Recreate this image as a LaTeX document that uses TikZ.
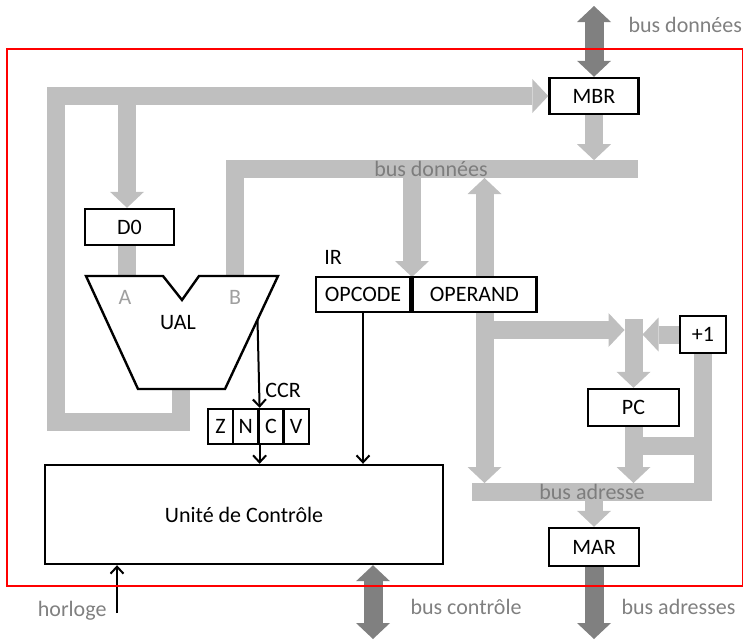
\documentclass[tikz,border=0pt]{standalone}
\usepackage{fontspec}
\setmainfont{Carlito}
\usetikzlibrary{arrows.meta}
\definecolor{busgray}{RGB}{191,191,191}
\definecolor{extgray}{RGB}{128,128,128}
\definecolor{labgray}{RGB}{128,128,128}
\definecolor{inlab}{RGB}{125,125,125}
\definecolor{portgray}{RGB}{160,160,160}

\begin{document}
\begin{tikzpicture}[x=1pt, y=-1pt, every node/.style={font=\fontsize{22}{26}\selectfont},
    reg/.style={draw, line width=2.4pt, inner sep=0pt, fill=white},
    bus/.style={busgray, line width=18pt},
    ext/.style={extgray, line width=19pt},
    bushead/.style={-{Triangle[width=34pt,length=16pt,line width=0pt]}},
    bothhead/.style={{Triangle[width=34pt,length=16pt,line width=0pt]}-{Triangle[width=34pt,length=16pt,line width=0pt]}},
    wire/.style={line width=2pt, -{Straight Barb[width=13pt,length=7pt]}}]
    \useasboundingbox (0,0) rectangle (743,640);

    % Define registers
    \node[reg, minimum width=89, minimum height=36] (mbr) at (594,96) {MBR};
    \node[reg, minimum width=89, minimum height=36] (d0) at (129.5,227) {D0};
    \node[reg, minimum width=91, minimum height=37] (pc) at (633.5,407.5) {PC};
    \node[reg, minimum width=46, minimum height=37] (inc) at (703,334.5) {+1};
    \node[reg, minimum width=90, minimum height=38] (mar) at (594,547) {MAR};
    \node[reg, minimum width=398, minimum height=99] (uc) at (244,514.5) {Unité de Contrôle};

    % Define bus points
    \coordinate (aluout) at (180.5,389);
    \coordinate (d0in) at (127,96);
    \coordinate (ualA) at (127,276);
    \coordinate (ualB) at (234.5,276);
    \coordinate (busDend) at (638,168.5);
    \coordinate (irin) at (412,178);
    \coordinate (opd) at (484.5,178);
    \coordinate (busA) at (484.5,483);
    \coordinate (brin) at (484.5,330);
    \coordinate (jctL) at (624.5,330);
    \coordinate (jct) at (633.5,319);
    \coordinate (jctR) at (642.5,334.5);
    \coordinate (busAR) at (703,491.5);
    \coordinate (busAL) at (472,491.5);
    \coordinate (marin) at (594,500);
    \coordinate (ctl) at (373,639);

    % Internal buses
    \draw[bus, bushead] (aluout) -- (180.5,422) -- (56,422) -- (56,96) -- (mbr.west);
    \draw[bus, bushead] (d0in) -- (d0in |- d0.north);
    \draw[bus] (ualA |- d0.south) -- (ualA);
    \draw[bus] (ualB) -- (ualB |- busDend) -- (busDend);
    \draw[bus, bushead] (mbr.south) -- ++(0,45);
    \draw[bus, bushead] (irin) -- (irin |- 0,277);
    \draw[bus, bothhead] (opd) -- (busA);
    \draw[bus, bushead] (brin) -- (jctL);
    \draw[bus, bushead] (jct) -- (jct |- pc.north);
    \draw[bus, bushead] (inc.west) -- (jctR);
    \draw[bus] (inc.south) -- (busAR) -- (busAL);
    \draw[bus, bushead] (pc.south) -- (pc.south |- busA);
    \draw[bus] ([yshift=-18.5pt]pc.south) -- ++(70,0);
    \draw[bus, bushead] (marin) -- (mar.north);
    \node[text=inlab] (dlab) at (431,169) {bus données};
    \node[text=inlab] (alab) at (592,492) {bus adresse};

    % External buses
    \draw[ext, bothhead] (594,6) -- (mbr.north);
    \draw[ext, bushead] (mar.south) -- (594,639);
    \draw[ext, bothhead] (ctl |- uc.south) -- (ctl);

    % UAL
    \draw[line width=2.4pt, fill=white] (86,276) -- (163,276) -- (182,300) -- (199,276)
        -- (278,276) -- (225,389) -- (138,389) -- cycle;
    \node[text=portgray] (pa) at (125,297) {A};
    \node[text=portgray] (pb) at (235,297) {B};
    \node (ual) at (178,323) {UAL};
    \coordinate (aluR) at (257.5,320);

    % IR
    \node[reg, minimum width=94, minimum height=35] (opcode) at (363,294.5) {OPCODE};
    \node[reg, minimum width=124, minimum height=35, anchor=west] (operand) at (opcode.east) {OPERAND};
    \node (ir) at (333,257) {IR};

    % CCR flags
    \foreach \f [count=\i] in {Z,N,C,V}
        \node[reg, minimum width=25.2, minimum height=35] (ccr\i) at (195.4+25.2*\i,426.5) {\f};
    \node (ccr) at (283,390) {CCR};

    % Control wires
    \draw[wire] (aluR) -- (ccr2.north east);
    \draw[wire] (ccr2.south east) -- (ccr2.south east |- uc.north);
    \draw[wire] (opcode.south) -- (opcode.south |- uc.north);
    \node[text=labgray, anchor=east] (clk) at (110,611) {horloge};
    \coordinate (clkin) at (117,613);
    \draw[wire] (clkin) -- (clkin |- uc.south);

    % Outside labels
    \node[text=labgray, anchor=west] (extd) at (625,25) {bus données};
    \node[text=labgray, anchor=west] (extc) at (407,607) {bus contrôle};
    \node[text=labgray, anchor=west] (exta) at (618,607) {bus adresses};

    % Processor frame
    \draw[red, line width=2pt] (7,49) rectangle (742.5,586);
\end{tikzpicture}
\end{document}
